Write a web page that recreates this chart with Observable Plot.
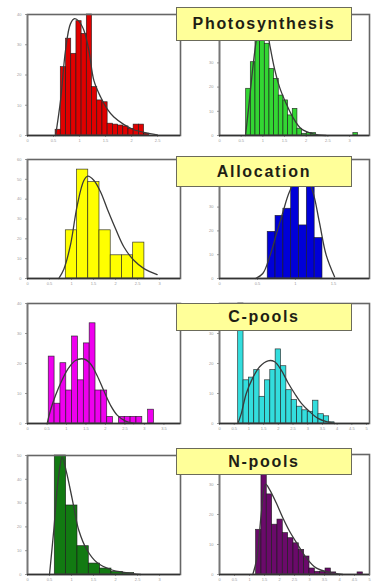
<!DOCTYPE html>
<html><head><meta charset="utf-8">
<script src="https://cdn.jsdelivr.net/npm/d3@7"></script>
<script src="https://cdn.jsdelivr.net/npm/@observablehq/plot@0.6"></script>
<style>
html,body{margin:0;padding:0;background:#fff;}
#wrap{position:relative;width:372px;height:581px;overflow:hidden;background:#fff;}
.panel{position:absolute;}
.lbl{position:absolute;background:#ffff99;border:1px solid #6b6b5a;box-sizing:border-box;font-family:"Liberation Sans",Arial,sans-serif;font-weight:bold;font-size:16px;color:#1e1e14;display:flex;align-items:center;justify-content:center;letter-spacing:1.7px;z-index:5;}
</style></head><body><div id="wrap"></div>
<script>
// ---- category labels ----
const groupNames = ["Photosynthesis", "Allocation", "C-pools", "N-pools"];

// ---- tick labels (faint, unreadable in source; approximated) ----
const xLabelsA = ["0", "0.5", "1", "1.5", "2", "2.5", "3", "3.5", "4", "4.5", "5"];
const yLabelsA = ["0", "10", "20", "30", "40", "50", "60"];

// ---- Photosynthesis, left (red) ----
const redStart = 1.08, redBin = 0.2;
const redCounts = [0.19, 2.26, 3.2, 2.7, 3.78, 3.36, 4.0, 1.6, 1.16, 1.1, 0.39, 0.36, 0.33, 0.3, 0.22, 0.36, 0.36, 0.06];
const redCurveX = [1.08, 1.27, 1.46, 1.65, 1.81, 1.97, 2.17, 2.36, 2.55, 2.81, 3.06, 3.32, 3.71, 4.09, 4.6, 4.99];
const redCurveY = [0, 1.16, 2.81, 3.69, 3.86, 3.78, 3.47, 2.81, 1.82, 1.27, 0.88, 0.61, 0.36, 0.19, 0.08, 0.02];

// ---- Photosynthesis, right (green) ----
const greenStart = 1.23, greenBin = 0.215;
const greenCounts = [1.93, 3.03, 4.06, 5.0, 3.79, 2.75, 2.34, 1.65, 1.45, 0.83, 1.1, 0.28, 0.07, 0.1, 0.1, 0, 0, 0, 0, 0, 0, 0, 0, 0.1];
const greenCurveX = [1.2, 1.38, 1.54, 1.72, 1.92, 2.12, 2.31, 2.54, 2.77, 3.08, 3.38, 3.77, 4.31, 4.92];
const greenCurveY = [0, 1.45, 2.82, 4.06, 4.89, 4.75, 3.79, 2.75, 2.0, 1.31, 0.76, 0.28, 0.07, 0];

// ---- Allocation, left (yellow) ----
const yellowStart = 1.74, yellowBin = 0.51;
const yellowCounts = [2.43, 5.49, 4.86, 2.43, 1.17, 1.17, 1.81];
const yellowCurveX = [1.42, 1.65, 1.95, 2.26, 2.56, 2.74, 3.02, 3.32, 3.62, 4.0, 4.38, 4.83, 5.29, 5.89];
const yellowCurveY = [0, 0.47, 1.68, 3.69, 4.94, 5.16, 4.94, 4.36, 3.52, 2.51, 1.59, 0.92, 0.5, 0.2];

// ---- Allocation, right (blue) ----
const blueStart = 1.27, blueBin = 0.206;
const blueCounts = [1.96, 2.63, 2.93, 5.0, 2.23, 5.0, 1.7];
const blueCurveX = [0.95, 1.14, 1.32, 1.49, 1.67, 1.84, 2.06, 2.28, 2.46, 2.63, 2.81, 3.03];
const blueCurveY = [0, 0.21, 0.91, 1.82, 2.79, 3.63, 4.26, 4.26, 3.63, 2.37, 0.98, 0.07];

// ---- C-pools, left (magenta) ----
const magentaStart = 1.09, magentaBin = 0.3;
const magentaCounts = [2.23, 0.66, 2.01, 1.1, 2.9, 1.44, 2.67, 3.34, 1.1, 1.1, 0.22, 0, 0.22, 0.22, 0.22, 0.22, 0, 0.46];
const magentaCurveX = [1.01, 1.18, 1.44, 1.78, 2.12, 2.46, 2.89, 3.23, 3.57, 3.91, 4.26, 4.6, 5.03, 5.45];
const magentaCurveY = [0, 0.44, 0.94, 1.46, 1.86, 2.1, 2.15, 1.99, 1.6, 1.1, 0.61, 0.28, 0.08, 0];

// ---- C-pools, right (cyan) ----
const cyanStart = 1.27, cyanBin = 0.364;
const cyanCounts = [4.0, 1.44, 1.53, 1.78, 0.89, 1.44, 1.78, 2.47, 1.91, 1.11, 0.78, 0.56, 0.44, 0.39, 0.76, 0.31, 0.24, 0.04];
const cyanCurveX = [1.25, 1.48, 1.82, 2.27, 2.73, 3.3, 3.75, 4.2, 4.66, 5.11, 5.57, 6.14, 6.7, 7.27, 7.84];
const cyanCurveY = [0, 0.33, 1.0, 1.53, 1.89, 2.09, 2.06, 1.78, 1.36, 1.0, 0.67, 0.39, 0.17, 0.06, 0];

// ---- N-pools, left (dark green) ----
const dgreenStart = 1.24, dgreenBin = 0.515;
const dgreenCounts = [5.0, 2.9, 1.19, 0.46, 0.25, 0.11, 0.06];
const dgreenCurveX = [1.0, 1.2, 1.38, 1.58, 1.77, 2.03, 2.33, 2.71, 3.17, 3.77, 4.53, 5.14];
const dgreenCurveY = [0, 1.93, 3.88, 4.93, 4.3, 3.18, 1.86, 1.02, 0.49, 0.21, 0.07, 0];

// ---- N-pools, right (purple) ----
const purpleStart = 2.44, purpleBin = 0.356;
const purpleCounts = [1.49, 3.6, 2.67, 1.66, 1.83, 1.38, 1.21, 1.04, 0.82, 0.6, 0.2, 0.09, 0.09, 0.2, 0.07, 0, 0, 0, 0, 0.07];
const purpleCurveX = [2.22, 2.49, 2.78, 3.07, 3.33, 3.78, 4.22, 4.67, 5.22, 5.78, 6.44, 7.33, 8.22];
const purpleCurveY = [0, 0.54, 2.0, 3.01, 2.84, 2.39, 1.89, 1.44, 0.99, 0.56, 0.22, 0.07, 0];

// ---- panel assembly (layout + style) ----
const panels = [
  {start: redStart, bin: redBin, counts: redCounts, cx: redCurveX, cy: redCurveY, color: "#e00000", xMax: 5.88, yMax: 4, box: [27, 180, 14, 135], right: false},
  {start: greenStart, bin: greenBin, counts: greenCounts, cx: greenCurveX, cy: greenCurveY, color: "#33d633", xMax: 6.92, yMax: 5, box: [219, 369, 14, 135], right: true},
  {start: yellowStart, bin: yellowBin, counts: yellowCounts, cx: yellowCurveX, cy: yellowCurveY, color: "#ffff00", xMax: 6.95, yMax: 6, box: [27, 180, 159, 278], right: false},
  {start: blueStart, bin: blueBin, counts: blueCounts, cx: blueCurveX, cy: blueCurveY, color: "#0000d8", xMax: 3.95, yMax: 5, box: [219, 369, 159, 278], right: true},
  {start: magentaStart, bin: magentaBin, counts: magentaCounts, cx: magentaCurveX, cy: magentaCurveY, color: "#ee00ee", xMax: 7.85, yMax: 4, box: [27, 180, 303, 423], right: false},
  {start: cyanStart, bin: cyanBin, counts: cyanCounts, cx: cyanCurveX, cy: cyanCurveY, color: "#33dddd", xMax: 10.2, yMax: 4, box: [219, 369, 303, 423], right: true},
  {start: dgreenStart, bin: dgreenBin, counts: dgreenCounts, cx: dgreenCurveX, cy: dgreenCurveY, color: "#127a12", xMax: 6.95, yMax: 5, box: [27, 180, 455, 574], right: false},
  {start: purpleStart, bin: purpleBin, counts: purpleCounts, cx: purpleCurveX, cy: purpleCurveY, color: "#6a0a6a", xMax: 10, yMax: 4, box: [219, 369, 454, 574], right: true}
];
const labelBoxes = [[7, 34], [156, 31], [303, 28], [448, 27]];

const wrap = document.getElementById("wrap");
const mL = 26, mR = 3, mT = 3, mB = 10;

panels.forEach(p => {
  const [left, right, top, bottom] = p.box;
  const bins = p.counts.map((c, i) => ({x1: p.start + i * p.bin, x2: p.start + (i + 1) * p.bin, y: Math.min(c, p.yMax)}));
  const curve = p.cx.map((x, i) => ({x, y: p.cy[i]}));
  // right-hand panels: their top tick sits under the label box, so it carries no label
  const yTicks = d3.range(0, p.yMax + 1);
  const chart = Plot.plot({
    width: right - left + mL + mR,
    height: bottom - top + mT + mB,
    marginLeft: mL, marginRight: mR, marginTop: mT, marginBottom: mB,
    style: {fontSize: "4px", color: "#9a9a9a", background: "transparent", fontFamily: "Liberation Sans, Arial, sans-serif"},
    x: {domain: [0, p.xMax], ticks: d3.range(0, Math.floor(p.xMax) + 1), tickFormat: i => xLabelsA[i] ?? "", tickSize: 2, tickPadding: 2, label: null},
    y: {domain: [0, p.yMax], ticks: yTicks, tickFormat: i => (p.right && i === p.yMax) ? "" : (yLabelsA[i] ?? ""), tickSize: 2, tickPadding: 4, label: null},
    marks: [
      Plot.rect(bins.filter(d => d.y > 0), {x1: "x1", x2: "x2", y1: 0, y2: "y", fill: p.color, stroke: "#1a1a1a", strokeWidth: 0.7, strokeOpacity: 0.85}),
      Plot.line(curve, {x: "x", y: "y", curve: "catmull-rom", stroke: "#3a3a3a", strokeWidth: 1.3}),
      Plot.frame({stroke: "#666", strokeWidth: 1.6}),
      Plot.ruleX([0], {stroke: "#777", strokeWidth: 1.5}),
      Plot.ruleY([0], {stroke: "#333", strokeWidth: 1.3})
    ]
  });
  chart.classList.add("panel");
  chart.style.left = (left - mL) + "px";
  chart.style.top = (top - mT) + "px";
  wrap.appendChild(chart);
});

groupNames.forEach((name, i) => {
  const d = document.createElement("div");
  d.className = "lbl";
  d.textContent = name;
  d.style.left = "176px";
  d.style.width = "176px";
  d.style.top = labelBoxes[i][0] + "px";
  d.style.height = labelBoxes[i][1] + "px";
  wrap.appendChild(d);
});
</script>
</body></html>
